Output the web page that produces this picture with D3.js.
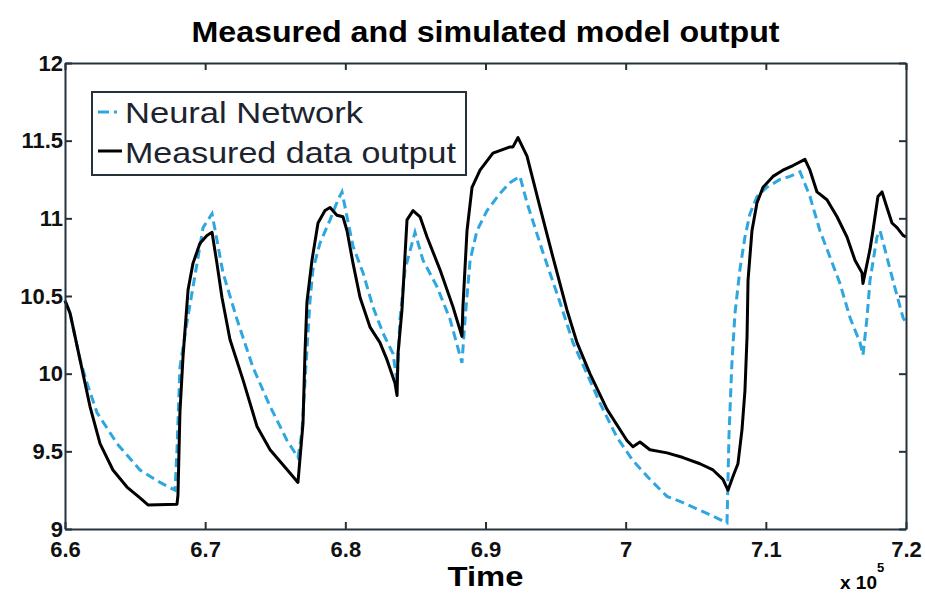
<!DOCTYPE html>
<html>
<head>
<meta charset="utf-8">
<script src="https://cdn.jsdelivr.net/npm/d3@7"></script>
<style>
  body { margin: 0; background: #fff; }
  text { font-family: "Liberation Sans", Arial, sans-serif; }
</style>
</head>
<body>
<div id="chart"></div>
<script>
// time in units of 1e5, output value
const measured = [
  [6.6,10.47],[6.6036,10.39],[6.6107,10.09],[6.6178,9.79],[6.625,9.55],[6.6342,9.38],[6.6442,9.27],
  [6.6535,9.2],[6.6592,9.155],[6.6799,9.16],[6.6806,9.22],[6.682,9.75],[6.6842,10.11],[6.6878,10.54],
  [6.6913,10.71],[6.6963,10.84],[6.7013,10.89],[6.7049,10.91],[6.7084,10.71],[6.712,10.49],[6.7177,10.22],
  [6.727,9.96],[6.737,9.66],[6.7463,9.51],[6.7605,9.36],[6.7662,9.3],[6.7698,9.68],[6.7712,10.13],
  [6.7726,10.46],[6.7762,10.73],[6.7805,10.97],[6.7855,11.05],[6.7891,11.07],[6.794,11.02],[6.7983,11.01],
  [6.8012,10.92],[6.8055,10.71],[6.8105,10.49],[6.8176,10.3],[6.8247,10.2],[6.8297,10.09],[6.8354,9.94],
  [6.8369,9.86],[6.8376,10.13],[6.8404,10.41],[6.844,10.99],[6.8483,11.05],[6.8533,11.01],[6.8583,10.88],
  [6.8675,10.67],[6.8768,10.43],[6.8832,10.24],[6.8839,10.43],[6.8868,10.92],[6.8904,11.2],[6.8961,11.31],
  [6.9053,11.42],[6.9175,11.46],[6.9196,11.46],[6.9232,11.52],[6.9296,11.4],[6.9389,11.07],[6.9481,10.75],
  [6.9581,10.41],[6.9653,10.2],[6.9745,10.0],[6.9867,9.77],[7.0009,9.57],[7.0052,9.53],[7.0102,9.56],
  [7.0173,9.51],[7.0295,9.49],[7.0409,9.46],[7.053,9.42],[7.0623,9.38],[7.0694,9.32],[7.073,9.25],
  [7.0766,9.34],[7.0801,9.42],[7.083,9.64],[7.0851,9.89],[7.0866,10.24],[7.0873,10.6],[7.0901,10.92],
  [7.0937,11.1],[7.098,11.2],[7.1051,11.27],[7.1122,11.31],[7.1194,11.34],[7.1279,11.38],[7.1315,11.31],
  [7.1365,11.17],[7.1436,11.12],[7.1508,11.01],[7.1579,10.88],[7.1636,10.73],[7.1686,10.65],[7.1693,10.58],
  [7.1743,10.8],[7.1764,10.92],[7.18,11.14],[7.1829,11.17],[7.1864,11.07],[7.19,10.97],[7.1936,10.94],
  [7.1979,10.89],[7.2,10.88]
];

const neural = [
  [6.6,10.47],[6.6036,10.39],[6.6107,10.09],[6.6157,9.94],[6.6228,9.75],[6.6371,9.55],[6.6535,9.38],
  [6.6678,9.3],[6.6785,9.25],[6.6799,9.51],[6.682,10.04],[6.687,10.33],[6.6942,10.71],[6.6985,10.94],
  [6.7049,11.03],[6.7084,10.86],[6.7127,10.65],[6.7227,10.35],[6.7341,10.04],[6.7463,9.79],[6.7584,9.57],
  [6.7627,9.51],[6.7662,9.46],[6.769,9.62],[6.7726,10.15],[6.7748,10.47],[6.7769,10.67],[6.7819,10.84],
  [6.7891,10.99],[6.7948,11.12],[6.7976,11.17],[6.8012,11.01],[6.8055,10.82],[6.8126,10.65],[6.8197,10.43],
  [6.8269,10.26],[6.834,10.13],[6.8369,9.95],[6.839,10.35],[6.8426,10.67],[6.8497,10.91],[6.8554,10.73],
  [6.8654,10.56],[6.8747,10.35],[6.8832,10.07],[6.8854,10.35],[6.889,10.73],[6.8939,10.92],[6.9011,11.05],
  [6.9103,11.16],[6.9175,11.23],[6.9246,11.27],[6.9296,11.1],[6.941,10.78],[6.9531,10.46],[6.9624,10.2],
  [6.9724,10.0],[6.9817,9.81],[6.9938,9.59],[7.0052,9.44],[7.0173,9.32],[7.0295,9.21],[7.0409,9.17],
  [7.058,9.1],[7.0723,9.04],[7.0737,9.6],[7.0758,10.07],[7.078,10.39],[7.0815,10.67],[7.0851,10.88],
  [7.0887,11.03],[7.0937,11.14],[7.1008,11.2],[7.1101,11.25],[7.1172,11.27],[7.1244,11.3],[7.1315,11.14],
  [7.1386,10.92],[7.1458,10.75],[7.1529,10.58],[7.1601,10.36],[7.1672,10.2],[7.1693,10.12],[7.1722,10.36],
  [7.1743,10.6],[7.1793,10.88],[7.1815,10.92],[7.1864,10.75],[7.1907,10.6],[7.1979,10.36],[7.2,10.33]
];

const xTicks = [6.6, 6.7, 6.8, 6.9, 7.0, 7.1, 7.2];
const yTicks = [9, 9.5, 10, 10.5, 11, 11.5, 12];
const legendLabels = ["Neural Network", "Measured data output"];

const width = 925, height = 594;
const margin = { top: 63, right: 19, bottom: 65, left: 65 };
const innerW = width - margin.left - margin.right;
const innerH = height - margin.top - margin.bottom;

const svg = d3.select("#chart")
  .append("svg")
  .attr("width", width)
  .attr("height", height);

const g = svg.append("g")
  .attr("transform", `translate(${margin.left},${margin.top})`);

const xScale = d3.scaleLinear().domain([6.6, 7.2]).range([0, innerW]);
const yScale = d3.scaleLinear().domain([9, 12]).range([innerH, 0]);

const fmt = d3.format("~g");
const axisColor = "#26323a";

// lines first, frame on top
const line = d3.line()
  .x((d) => xScale(d[0]))
  .y((d) => yScale(d[1]));

g.append("path")
  .datum(neural)
  .attr("d", line)
  .attr("fill", "none")
  .attr("stroke", "#2ea6df")
  .attr("stroke-width", 3)
  .attr("stroke-dasharray", "9,5");

g.append("path")
  .datum(measured)
  .attr("d", line)
  .attr("fill", "none")
  .attr("stroke", "#000")
  .attr("stroke-width", 3)
  .attr("stroke-linejoin", "round");

// axes, ticks pointing inward like matlab
const xAxis = g.append("g")
  .attr("transform", `translate(0,${innerH})`)
  .call(d3.axisBottom(xScale).tickValues(xTicks).tickFormat(fmt).tickSizeInner(-7).tickSizeOuter(0).tickPadding(12));

const yAxis = g.append("g")
  .call(d3.axisLeft(yScale).tickValues(yTicks).tickFormat(fmt).tickSizeInner(-7).tickSizeOuter(0).tickPadding(2));

g.append("g")
  .call(d3.axisTop(xScale).tickValues(xTicks).tickFormat("").tickSizeInner(-7).tickSizeOuter(0));

g.append("g")
  .attr("transform", `translate(${innerW},0)`)
  .call(d3.axisRight(yScale).tickValues(yTicks).tickFormat("").tickSizeInner(-7).tickSizeOuter(0));

g.selectAll(".domain").attr("stroke", axisColor).attr("stroke-width", 2);
g.selectAll(".tick line").attr("stroke", axisColor).attr("stroke-width", 2);

xAxis.selectAll(".tick text")
  .attr("font-size", 22)
  .attr("font-weight", "bold")
  .attr("fill", "#111");

yAxis.selectAll(".tick text")
  .attr("font-size", 22)
  .attr("font-weight", "bold")
  .attr("fill", "#111")
  .attr("dy", "0.32em");

// title
svg.append("text")
  .attr("x", margin.left + innerW / 2)
  .attr("y", 42)
  .attr("text-anchor", "middle")
  .attr("font-size", 30)
  .attr("font-weight", "bold")
  .attr("textLength", 588)
  .attr("lengthAdjust", "spacingAndGlyphs")
  .text("Measured and simulated model output");

// x label
svg.append("text")
  .attr("x", margin.left + innerW / 2)
  .attr("y", 586)
  .attr("text-anchor", "middle")
  .attr("font-size", 28)
  .attr("font-weight", "bold")
  .attr("textLength", 76)
  .attr("lengthAdjust", "spacingAndGlyphs")
  .text("Time");

// exponent
const expo = svg.append("text")
  .attr("x", 840)
  .attr("y", 589)
  .attr("font-size", 19)
  .attr("font-weight", "bold");
expo.append("tspan").text("x 10");
expo.append("tspan").attr("font-size", 13).attr("dy", -17).text("5");

// legend
const legend = svg.append("g");
legend.append("rect")
  .attr("x", 92).attr("y", 92)
  .attr("width", 374).attr("height", 83)
  .attr("fill", "#fff")
  .attr("stroke", axisColor)
  .attr("stroke-width", 2);

legend.append("line")
  .attr("x1", 98).attr("x2", 122)
  .attr("y1", 112).attr("y2", 112)
  .attr("stroke", "#2ea6df")
  .attr("stroke-width", 3)
  .attr("stroke-dasharray", "11,5,3,5");

legend.append("line")
  .attr("x1", 98).attr("x2", 122)
  .attr("y1", 151).attr("y2", 151)
  .attr("stroke", "#000")
  .attr("stroke-width", 3);

const legendWidths = [238, 331];
legend.selectAll("text.lbl")
  .data(legendLabels)
  .enter()
  .append("text")
  .attr("class", "lbl")
  .attr("x", 125)
  .attr("y", (d, i) => 123 + i * 40)
  .attr("font-size", 29)
  .attr("fill", "#1c2430")
  .attr("textLength", (d, i) => legendWidths[i])
  .attr("lengthAdjust", "spacingAndGlyphs")
  .text((d) => d);
</script>
</body>
</html>
